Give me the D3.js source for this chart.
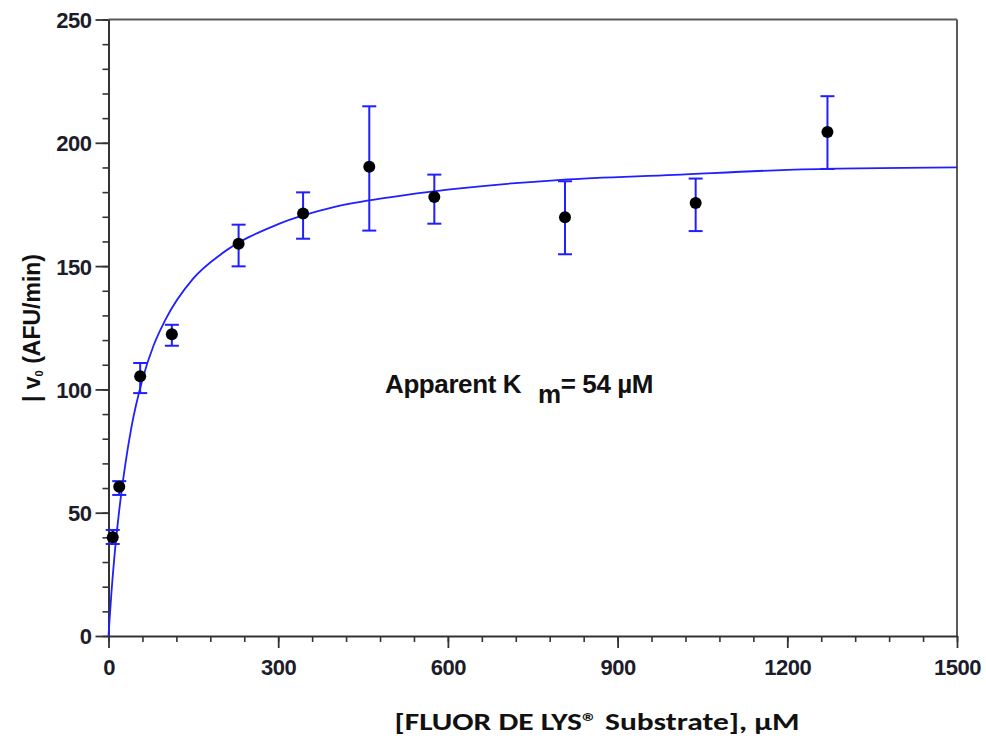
<!DOCTYPE html>
<html>
<head>
<meta charset="utf-8">
<script src="https://cdn.jsdelivr.net/npm/d3@7"></script>
<style>
  body { margin: 0; background: #fff; }
  svg { display: block; }
</style>
</head>
<body>
<div id="chart"></div>
<script>
// substrate concentration (µM) and initial velocity (AFU/min)
const conc = [7.5, 19, 56, 112, 230, 344, 461, 576, 807, 1038, 1271];
const rate = [40, 60.5, 105.3, 122.4, 159.1, 171.3, 190.3, 178, 169.8, 175.6, 204.4];
const errHigh = [43, 62.8, 110.7, 126.2, 166.8, 179.9, 214.8, 187.1, 184.4, 185.5, 218.9];
const errLow = [37.3, 57.2, 98.5, 117.7, 149.9, 161.1, 164.4, 167.2, 154.8, 164.2, 189.4];

// fitted Michaelis-Menten curve as drawn
const fitX = [0, 2, 5, 10, 20, 30, 40, 60, 80, 100, 150, 200, 300, 400, 500, 600, 800, 1000, 1200, 1500];
const fitY = [0, 7, 17, 31, 53, 70, 84, 104, 118, 128, 145, 155, 167, 174, 178, 181, 185, 187, 189, 190];

const xTicks = [0, 300, 600, 900, 1200, 1500];
const yTicks = [0, 50, 100, 150, 200, 250];

const width = 986, height = 740;
const margin = { left: 108.5, right: 29, top: 19.5, bottom: 104 };

const svg = d3
  .select("#chart")
  .append("svg")
  .attr("width", width)
  .attr("height", height);

const x = d3.scaleLinear().domain([0, 1500]).range([margin.left, width - margin.right]);
const y = d3.scaleLinear().domain([0, 250]).range([height - margin.bottom, margin.top]);

const blue = "#1f1fff";
const frame = "#5a5a5a";

// frame: top and right
svg.append("line")
  .attr("x1", x(0)).attr("x2", x(1500))
  .attr("y1", y(250)).attr("y2", y(250))
  .attr("stroke", frame).attr("stroke-width", 2);
svg.append("line")
  .attr("x1", x(1500)).attr("x2", x(1500))
  .attr("y1", y(250)).attr("y2", y(0))
  .attr("stroke", frame).attr("stroke-width", 2);

// minor ticks
svg.append("g")
  .attr("transform", `translate(0,${y(0)})`)
  .call(d3.axisBottom(x).tickValues(d3.range(0, 1501, 60)).tickSize(6).tickFormat(""))
  .call((g) => g.select(".domain").remove())
  .selectAll("line").attr("stroke", "#333").attr("stroke-width", 1.6);
svg.append("g")
  .attr("transform", `translate(${x(0)},0)`)
  .call(d3.axisLeft(y).tickValues(d3.range(0, 251, 10)).tickSize(6).tickFormat(""))
  .call((g) => g.select(".domain").remove())
  .selectAll("line").attr("stroke", "#333").attr("stroke-width", 1.6);

// major ticks + labels
const xAxis = svg.append("g")
  .attr("transform", `translate(0,${y(0)})`)
  .call(d3.axisBottom(x).tickValues(xTicks).tickFormat(d3.format("d"))
    .tickSize(12).tickPadding(11).tickSizeOuter(0));
const yAxis = svg.append("g")
  .attr("transform", `translate(${x(0)},0)`)
  .call(d3.axisLeft(y).tickValues(yTicks).tickFormat(d3.format("d"))
    .tickSize(13).tickPadding(4).tickSizeOuter(0));

[xAxis, yAxis].forEach((g) => {
  g.select(".domain").attr("stroke", "#333").attr("stroke-width", 2);
  g.selectAll(".tick line").attr("stroke", "#333").attr("stroke-width", 1.8);
  g.selectAll(".tick text")
    .attr("fill", "#1c1c2a")
    .style("font-family", "'Liberation Sans', Arial, sans-serif")
    .style("font-weight", "bold")
    .style("font-size", "22px")
    .style("letter-spacing", "-0.5px");
});
yAxis.selectAll(".tick text").attr("dy", "0.36em");

// fitted curve
svg.append("path")
  .datum(fitX.map((d, i) => [d, fitY[i]]))
  .attr("fill", "none")
  .attr("stroke", blue)
  .attr("stroke-width", 1.8)
  .attr("d", d3.line().x((d) => x(d[0])).y((d) => y(d[1])).curve(d3.curveMonotoneX));

// error bars
const bars = svg.append("g").attr("stroke", blue).attr("stroke-width", 2);
conc.forEach((c, i) => {
  bars.append("line")
    .attr("x1", x(c)).attr("x2", x(c))
    .attr("y1", y(errLow[i])).attr("y2", y(errHigh[i]));
  [errLow[i], errHigh[i]].forEach((v) => {
    bars.append("line")
      .attr("x1", x(c) - 7).attr("x2", x(c) + 7)
      .attr("y1", y(v)).attr("y2", y(v));
  });
});

// points
svg.append("g")
  .selectAll("circle")
  .data(conc)
  .enter()
  .append("circle")
  .attr("cx", (d) => x(d))
  .attr("cy", (d, i) => y(rate[i]))
  .attr("r", 6)
  .attr("fill", "#000");

// annotation
const note = svg.append("text")
  .attr("x", 385)
  .attr("y", 393)
  .attr("fill", "#111")
  .style("font-family", "'Liberation Sans', Arial, sans-serif")
  .style("font-weight", "bold")
  .style("font-size", "26px")
  .style("letter-spacing", "-0.4px");
note.append("tspan").text("Apparent K");
note.append("tspan").attr("x", 538).attr("dy", 10).text("m");
note.append("tspan").attr("dy", -10).text("= 54 µM");

// y label
const yl = svg.append("text")
  .attr("transform", "translate(40,328) rotate(-90)")
  .attr("text-anchor", "middle")
  .attr("fill", "#111")
  .style("font-family", "'Liberation Sans', Arial, sans-serif")
  .style("font-weight", "bold")
  .style("font-size", "23px");
yl.append("tspan").text("|  v");
yl.append("tspan").attr("dy", 3).style("font-size", "11px").text("0");
yl.append("tspan").attr("dy", -3).text("  (AFU/min)");

// x label
svg.append("text")
  .attr("x", 597)
  .attr("y", 730)
  .attr("text-anchor", "middle")
  .attr("fill", "#111")
  .attr("textLength", 405)
  .attr("lengthAdjust", "spacingAndGlyphs")
  .style("font-family", "Carlito, Lato, 'Open Sans', sans-serif")
  .style("font-weight", "bold")
  .style("font-size", "25px")
  .text("[FLUOR DE LYS® Substrate], µM");
</script>
</body>
</html>
